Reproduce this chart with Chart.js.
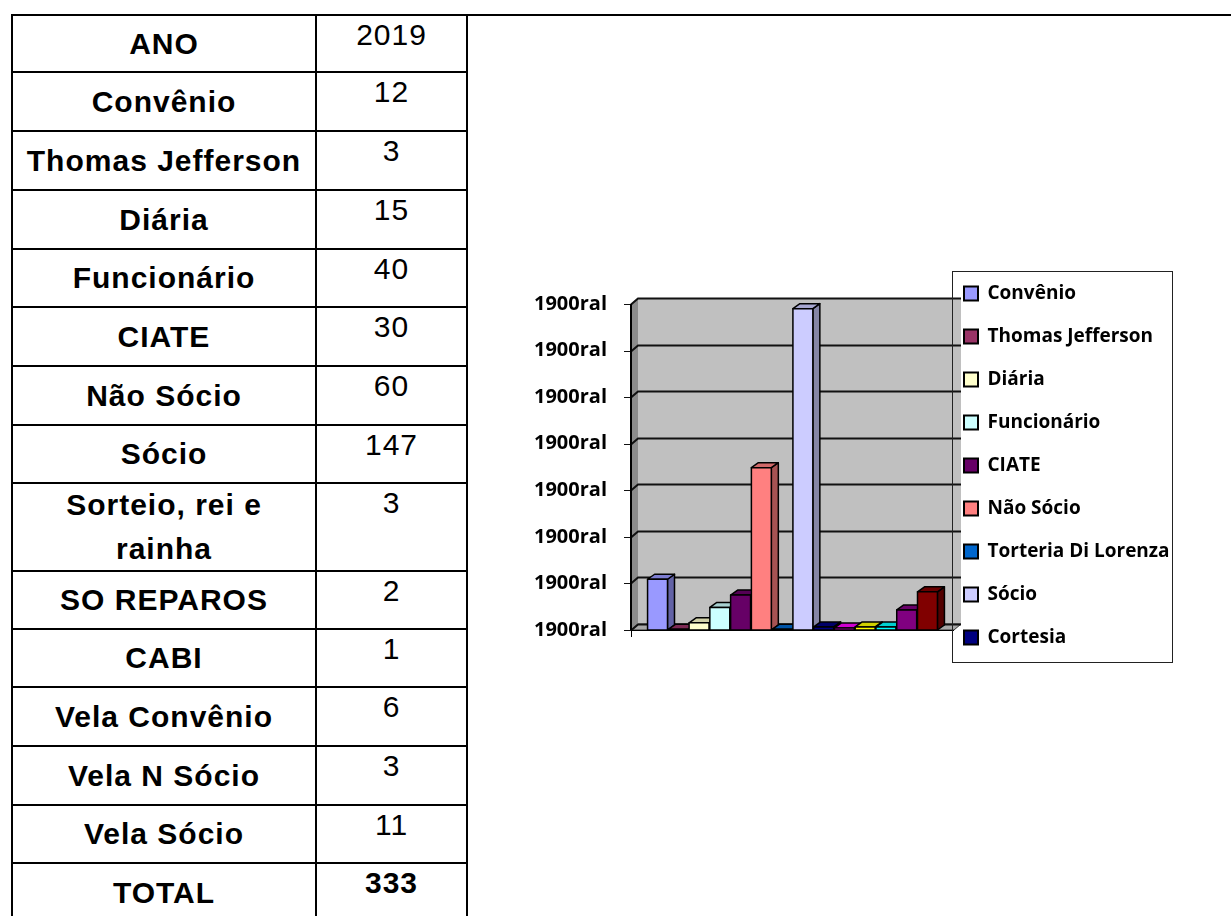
<!DOCTYPE html>
<html lang="pt-BR">
<head>
<meta charset="utf-8">
<title>Quadro 2019</title>
<script src="https://cdn.jsdelivr.net/npm/chart.js@4.4.0/dist/chart.umd.min.js"></script>
<style>
  html, body { margin: 0; padding: 0; background: #fff; }
  body { position: relative; width: 1231px; height: 916px; overflow: hidden; }
  .topline { position: absolute; left: 12px; top: 14px; width: 1219px; height: 2px; background: #000; }
  .cell {
    position: absolute; box-sizing: border-box; border: 2px solid #000;
    font-family: "Liberation Sans", Arial, sans-serif; font-size: 30px; color: #000;
    letter-spacing: 1px; text-align: center;
  }
  .lbl { display: flex; align-items: center; justify-content: center; font-weight: bold; line-height: 30px; }
  .lbl.two { line-height: 44px; }
  .num { padding-top: 4px; line-height: 30px; }
  .num.bold { font-weight: bold; }
  #chartBox { position: absolute; left: 500px; top: 250px; width: 700px; height: 431px; }
</style>
</head>
<body>
<div class="topline"></div>
<div id="table"></div>
<div id="chartBox"><canvas id="chart" width="700" height="431"></canvas></div>

<script>
// ---- Table data ----
const tableLabels = ["ANO", "Convênio", "Thomas Jefferson", "Diária", "Funcionário", "CIATE", "Não Sócio", "Sócio",
  "Sorteio, rei e<br>rainha", "SO REPAROS", "CABI", "Vela Convênio", "Vela N Sócio", "Vela Sócio", "TOTAL"];
const tableValues = ["2019", "12", "3", "15", "40", "30", "60", "147", "3", "2", "1", "6", "3", "11", "333"];

// ---- Chart data ----
const categories = [""];
const seriesNames = ["Convênio", "Thomas Jefferson", "Diária", "Funcionário", "CIATE", "Não Sócio",
  "Torteria Di Lorenza", "Sócio", "Cortesia", "Série 10", "Série 11", "Série 12", "Série 13", "Série 14"];
const seriesValues = [21.8, 0.3, 3.1, 9.7, 15.0, 69.7, 0.3, 138, 1.3, 0.9, 1.3, 1.3, 8.6, 16.4];
const seriesColors = ["#9999FF", "#993366", "#FFFFCC", "#CCFFFF", "#660066", "#FF8080", "#0066CC",
  "#CCCCFF", "#000080", "#FF00FF", "#FFFF00", "#00FFFF", "#800080", "#800000"];
const tickLabel = "1900ral";
const legendCount = 9;

// ---- Table layout ----
const rowHeights = [57, 59, 59, 59, 58, 59, 59, 58, 88, 58, 58, 59, 59, 58, 59];
const colX = [12, 316, 467];

(function buildTable() {
  const host = document.getElementById("table");
  let y = 15;
  tableLabels.forEach((label, i) => {
    const h = rowHeights[i];
    const a = document.createElement("div");
    a.className = "cell lbl" + (label.includes("<br>") ? " two" : "");
    a.style.cssText = `left:${colX[0] - 1}px;top:${y - 1}px;width:${colX[1] - colX[0] + 2}px;height:${h + 2}px;`;
    a.innerHTML = label;
    host.appendChild(a);
    const b = document.createElement("div");
    b.className = "cell num" + (i === tableLabels.length - 1 ? " bold" : "");
    b.style.cssText = `left:${colX[1] - 1}px;top:${y - 1}px;width:${colX[2] - colX[1] + 2}px;height:${h + 2}px;`;
    b.textContent = tableValues[i];
    host.appendChild(b);
    y += h;
  });
})();

// ---- Colour helper ----
function shade(hex, f) {
  const n = parseInt(hex.slice(1), 16);
  const r = Math.round(((n >> 16) & 255) * f);
  const g = Math.round(((n >> 8) & 255) * f);
  const b = Math.round((n & 255) * f);
  return `rgb(${r},${g},${b})`;
}

// ---- 3D look: walls, floor, gridlines ----
const WALL_DX = 7, WALL_DY = -6;
const BAR_DX = 7, BAR_DY = -5;
const LEGEND_SHIFT = 14;

const walls3d = {
  id: "walls3d",
  afterInit(chart) {
    // fixed legend width so the plot lands where the original has it
    const fit = chart.legend.fit;
    chart.legend.fit = function () { fit.call(this); this.width = 246; };
  },
  afterLayout(chart) {
    chart.legend.left -= LEGEND_SHIFT;
    chart.legend.right -= LEGEND_SHIFT;
  },
  beforeDatasetsDraw(chart) {
    const { ctx, chartArea: a, scales: { y } } = chart;
    ctx.save();
    // back wall
    ctx.fillStyle = "#C0C0C0";
    ctx.fillRect(a.left + WALL_DX, a.top + WALL_DY, a.right - a.left, a.bottom - a.top);
    // left wall
    ctx.fillStyle = "#8C8C8C";
    ctx.beginPath();
    ctx.moveTo(a.left, a.top);
    ctx.lineTo(a.left + WALL_DX, a.top + WALL_DY);
    ctx.lineTo(a.left + WALL_DX, a.bottom + WALL_DY);
    ctx.lineTo(a.left, a.bottom);
    ctx.closePath();
    ctx.fill();
    // floor
    ctx.fillStyle = "#A8A8A8";
    ctx.beginPath();
    ctx.moveTo(a.left, a.bottom);
    ctx.lineTo(a.left + WALL_DX, a.bottom + WALL_DY);
    ctx.lineTo(a.right + WALL_DX, a.bottom + WALL_DY);
    ctx.lineTo(a.right, a.bottom);
    ctx.closePath();
    ctx.fill();
    ctx.strokeStyle = "#333";
    ctx.lineWidth = 1;
    ctx.stroke();

    // gridlines on back wall + left wall
    ctx.strokeStyle = "#111";
    y.ticks.forEach(t => {
      const py = Math.round(y.getPixelForValue(t.value)) + 0.5;
      ctx.lineWidth = 2;
      ctx.beginPath();
      ctx.moveTo(a.left, py);
      ctx.lineTo(a.left + WALL_DX, py + WALL_DY);
      ctx.lineTo(a.right + WALL_DX, py + WALL_DY);
      ctx.stroke();
      // tick mark
      ctx.lineWidth = 1;
      ctx.beginPath();
      ctx.moveTo(a.left - 7, py);
      ctx.lineTo(a.left, py);
      ctx.stroke();
    });
    // value axis line
    ctx.lineWidth = 2;
    ctx.strokeStyle = "#000";
    ctx.beginPath();
    ctx.moveTo(a.left, a.top);
    ctx.lineTo(a.left, a.bottom);
    ctx.stroke();
    // category axis line + tick
    ctx.lineWidth = 1;
    ctx.beginPath();
    ctx.moveTo(a.left, a.bottom + 0.5);
    ctx.lineTo(a.right, a.bottom + 0.5);
    ctx.moveTo(a.left + 0.5, a.bottom);
    ctx.lineTo(a.left + 0.5, a.bottom + 7);
    ctx.stroke();
    ctx.restore();
  },
  afterDatasetsDraw(chart) {
    // redraw every bar as a box, left to right, so later fronts cover earlier sides
    const ctx = chart.ctx;
    ctx.save();
    ctx.lineWidth = 1.5;
    ctx.strokeStyle = "#000";
    ctx.lineJoin = "round";
    chart.data.datasets.forEach((ds, i) => {
      const meta = chart.getDatasetMeta(i);
      meta.data.forEach(el => {
        const { x, y, base, width } = el.getProps(["x", "y", "base", "width"], true);
        const l = x - width / 2, r = x + width / 2;
        const col = ds.backgroundColor;
        // side
        ctx.fillStyle = shade(col, 0.65);
        ctx.beginPath();
        ctx.moveTo(r, y);
        ctx.lineTo(r + BAR_DX, y + BAR_DY);
        ctx.lineTo(r + BAR_DX, base + BAR_DY);
        ctx.lineTo(r, base);
        ctx.closePath();
        ctx.fill(); ctx.stroke();
        // top
        ctx.fillStyle = shade(col, 0.82);
        ctx.beginPath();
        ctx.moveTo(l, y);
        ctx.lineTo(l + BAR_DX, y + BAR_DY);
        ctx.lineTo(r + BAR_DX, y + BAR_DY);
        ctx.lineTo(r, y);
        ctx.closePath();
        ctx.fill(); ctx.stroke();
        // front
        ctx.fillStyle = col;
        ctx.fillRect(l, y, width, base - y);
        ctx.strokeRect(l, y, width, base - y);
      });
    });
    ctx.restore();
  },
  afterDraw(chart) {
    // frame around the legend
    const { ctx, legend } = chart;
    ctx.save();
    ctx.strokeStyle = "#222";
    ctx.lineWidth = 1;
    ctx.strokeRect(Math.round(legend.left + 12) + 0.5, 21.5, 220, 391);
    ctx.restore();
  }
};

new Chart(document.getElementById("chart"), {
  type: "bar",
  data: {
    labels: categories,
    datasets: seriesNames.map((name, i) => ({
      label: name,
      data: [seriesValues[i]],
      backgroundColor: seriesColors[i],
      borderColor: "#000",
      borderWidth: 2
    }))
  },
  options: {
    responsive: false,
    animation: false,
    devicePixelRatio: 1,
    categoryPercentage: 0.9,
    barPercentage: 0.96,
    layout: { padding: 0 },
    scales: {
      x: {
        display: true,
        grid: { display: false, drawTicks: false },
        border: { display: false },
        ticks: { display: false },
        afterFit: s => { s.height = 51; }
      },
      y: {
        min: 0,
        max: 140,
        grid: { display: false, drawTicks: false },
        border: { display: false },
        ticks: {
          stepSize: 20,
          padding: 24,
          color: "#000",
          font: { family: "'Open Sans'", weight: "bold", size: 20 },
          callback: () => tickLabel
        },
        afterFit: s => { s.width = 131; }
      }
    },
    plugins: {
      tooltip: { enabled: false },
      title: {
        display: true,
        text: "",
        fullSize: false,
        padding: { top: 44, bottom: 0 },
        font: { size: 10, lineHeight: 1 }
      },
      legend: {
        position: "right",
        align: "center",
        labels: {
          boxWidth: 14,
          boxHeight: 14,
          padding: 24,
          color: "#000",
          font: { family: "'Open Sans'", weight: "bold", size: 19 },
          filter: item => item.datasetIndex < legendCount
        }
      }
    }
  },
  plugins: [walls3d]
});
</script>
</body>
</html>
